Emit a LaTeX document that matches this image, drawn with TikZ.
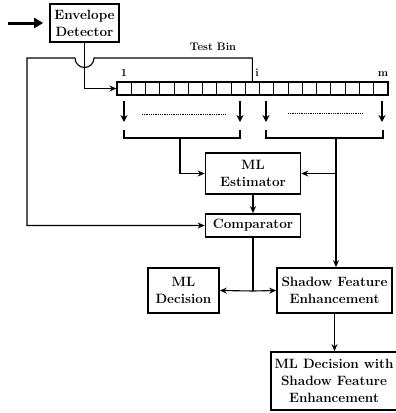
\documentclass[tikz,border=0pt]{standalone}
\usetikzlibrary{positioning,arrows.meta}
\begin{document}
\begin{tikzpicture}[x=1pt,y=-1pt,
  blk/.style={draw,line width=1.7pt,align=center,inner sep=2pt,font=\fontsize{13.5}{17}\selectfont\bfseries},
  lbl/.style={font=\fontsize{11}{13}\selectfont\bfseries,inner sep=0pt},
  conn/.style={line width=1.1pt,-{Stealth[length=7pt,width=6pt]}},
  wire/.style={line width=1.1pt},
  dn/.style={line width=2.2pt,-{Stealth[length=7pt,width=7pt]}}]
  \useasboundingbox (0,0) rectangle (396,413);
  \node[blk,minimum width=69pt,minimum height=38pt] (env) at (84.5,23) {Envelope\\Detector};
  \node[draw,line width=1.2pt,minimum width=271pt,minimum height=13pt,inner sep=0pt] (arr) at (252.5,88.5) {};
  \foreach \k in {1,...,18}
    \draw[line width=0.9pt] (117+\k*14.263,82) -- (117+\k*14.263,95);
  \node[lbl] (one) at (124,73) {1};
  \node[lbl] (ibin) at (257,73) {i};
  \node[lbl] (mbin) at (383,74) {m};
  \node[lbl] (test) at (213,47) {Test Bin};
  \node[blk,minimum width=95pt,minimum height=41pt] (est) at (253,173.5) {ML\\Estimator};
  \node[blk,minimum width=95pt,minimum height=23pt] (comp) at (253,225.5) {Comparator};
  \node[blk,minimum width=71pt,minimum height=45pt] (dec) at (183.5,290.5) {ML\\Decision};
  \node[blk,minimum width=115pt,minimum height=45pt] (sfe) at (334.5,290.5) {Shadow Feature\\Enhancement};
  \node[blk,minimum width=126pt,minimum height=58pt] (fin) at (334,381) {ML Decision with\\Shadow Feature\\Enhancement};
  \coordinate (in) at (8,23);
  \coordinate (tb) at (252.4,82);
  \coordinate (lb) at (180,138);
  \coordinate (rb) at (336,138);
  \draw[line width=3pt,-{Triangle[length=9pt,width=10pt]}] (in) -- ([xshift=-6pt]env.west);
  \draw[conn] (env.south) |- (arr.west);
  \draw[conn] (tb) -- (tb |- 0,58) -- (94,58) arc[start angle=0,end angle=180,radius=9.5] -- (27,58) |- (comp.west);
  \foreach \x in {124,240,266,382}
    \draw[dn] (\x,101) -- (\x,122);
  \draw[line width=1pt,dash pattern=on 1pt off 0.8pt] (142,114) -- (225,114);
  \draw[line width=1pt,dash pattern=on 1pt off 0.8pt] (288,113) -- (363,113);
  \draw[wire] (124,130) -- (124,138) -- (240,138) -- (240,130);
  \draw[wire] (266,130) -- (266,138) -- (383,138) -- (383,130);
  \draw[conn] (lb) |- (est.west);
  \draw[conn] (rb) -- (rb |- sfe.north);
  \draw[conn] (rb |- est.east) -- (est.east);
  \draw[conn] (est.south) -- (comp.north);
  \draw[wire] (comp.south) -- (253,291) coordinate (sp);
  \draw[conn] (sp) -- (dec.east);
  \draw[conn] (sp) -- (sfe.west);
  \draw[conn] (sfe.south) -- (sfe.south |- fin.north);
\end{tikzpicture}
\end{document}
